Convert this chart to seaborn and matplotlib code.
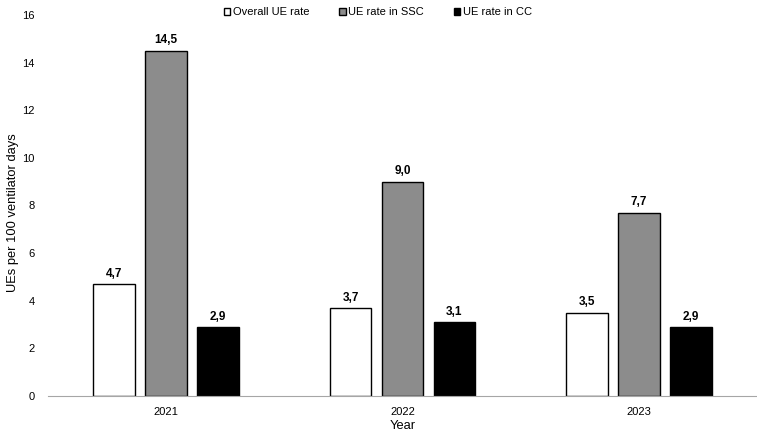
import pandas as pd
import seaborn as sns
from matplotlib import pyplot as plt

years = ['2021', '2022', '2023']
series = ['Overall UE rate', 'UE rate in SSC', 'UE rate in CC']
overall_rate = [4.7, 3.7, 3.5]
ssc_rate = [14.5, 9.0, 7.7]
cc_rate = [2.9, 3.1, 2.9]
colors = ['#ffffff', '#8c8c8c', '#000000']

df = pd.DataFrame({
    'year': years * 3,
    'rate': overall_rate + ssc_rate + cc_rate,
    'series': [s for s in series for _ in years],
})

sns.set_style('white')
plt.rcParams['font.family'] = ['Liberation Sans', 'DejaVu Sans']
plt.rcParams['text.color'] = 'black'
plt.rcParams['axes.labelcolor'] = 'black'
plt.rcParams['xtick.color'] = 'black'
plt.rcParams['ytick.color'] = 'black'

fig = plt.figure(figsize=(7.57, 4.33), dpi=100)
ax = fig.add_axes([0.0634, 0.0855, 0.9366, 0.88])

sns.barplot(ax=ax, data=df, x='year', y='rate', hue='series',
            palette=colors, width=0.66, gap=0.2,
            edgecolor='black', linewidth=1.0)

for cont in ax.containers:
    labels = [f'{b.get_height():.1f}'.replace('.', ',') for b in cont]
    ax.bar_label(cont, labels=labels, padding=3, fontsize=8.5, fontweight='bold')

ax.set_ylim(0, 16)
ax.set_xlim(-0.5, 2.5)
ax.set_yticks(range(0, 17, 2))
ax.tick_params(axis='y', length=0, labelsize=8, pad=9.5)
ax.tick_params(axis='x', length=0, labelsize=8, pad=8)
ax.set_xlabel('Year', fontsize=9.3, labelpad=2)
ax.set_ylabel('UEs per 100 ventilator days', fontsize=9.3)
ax.yaxis.set_label_coords(-0.041, 0.48)

for side in ['top', 'right', 'left']:
    ax.spines[side].set_visible(False)
ax.spines['bottom'].set_color('#a6a6a6')

ax.legend(loc='upper center', bbox_to_anchor=(0.465, 1.032), ncol=3,
          frameon=False, fontsize=8, handlelength=0.6, handleheight=0.6,
          handletextpad=0.2, columnspacing=2.7, borderaxespad=0)

fig.savefig('out.png', dpi=100)
